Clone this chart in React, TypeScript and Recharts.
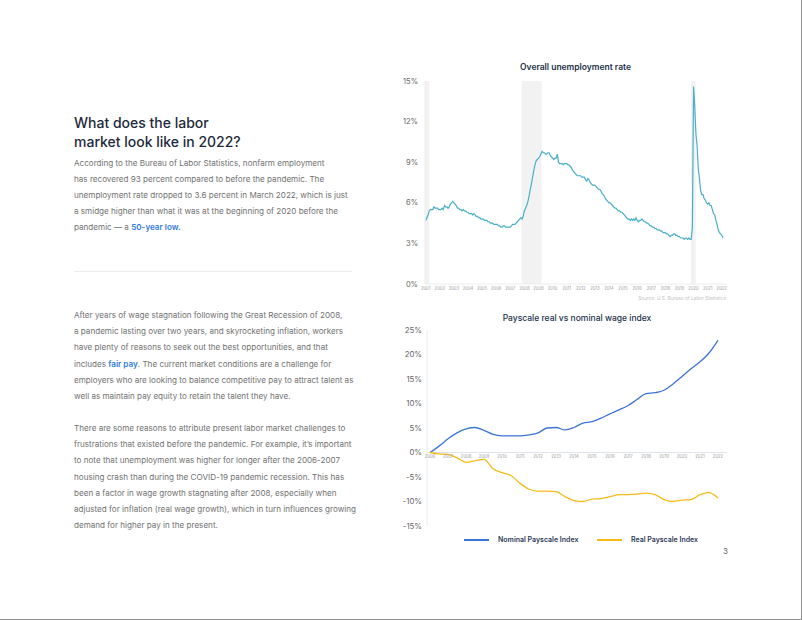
import React from 'react';
import { LineChart, Line, XAxis, YAxis, ReferenceArea, ReferenceLine } from 'recharts';

// ---------- Overall unemployment rate (monthly, %) ----------
const unempYears = [2001, 2002, 2003, 2004, 2005, 2006, 2007, 2008, 2009, 2010, 2011, 2012, 2013, 2014, 2015, 2016, 2017, 2018, 2019, 2020, 2021, 2022];
const unempRate: number[][] = [
  [4.7, 4.9, 5.1, 5.4, 5.5, 5.5, 5.5, 5.7, 5.6, 5.6, 5.6, 5.5],
  [5.5, 5.5, 5.6, 5.5, 5.8, 5.7, 5.7, 5.6, 5.7, 5.9, 6.0, 6.1],
  [6.0, 5.9, 5.8, 5.6, 5.6, 5.5, 5.5, 5.4, 5.5, 5.4, 5.4, 5.3],
  [5.3, 5.2, 5.2, 5.2, 5.1, 5.2, 5.1, 5.0, 5.0, 4.9, 4.9, 4.8],
  [4.8, 4.8, 4.7, 4.7, 4.7, 4.6, 4.6, 4.5, 4.5, 4.5, 4.4, 4.4],
  [4.4, 4.4, 4.3, 4.3, 4.2, 4.2, 4.3, 4.3, 4.2, 4.2, 4.2, 4.2],
  [4.2, 4.3, 4.4, 4.4, 4.4, 4.5, 4.6, 4.7, 4.8, 4.9, 4.8, 5.0],
  [5.4, 5.6, 5.8, 6.1, 6.5, 7.0, 7.4, 7.9, 8.4, 8.8, 9.1, 9.2],
  [9.3, 9.4, 9.6, 9.8, 9.7, 9.7, 9.6, 9.6, 9.7, 9.7, 9.5, 9.4],
  [9.3, 9.2, 9.3, 9.3, 9.6, 9.0, 8.9, 8.9, 8.9, 8.8, 8.9, 8.9],
  [8.9, 8.8, 8.8, 8.7, 8.6, 8.4, 8.3, 8.2, 8.1, 8.0, 8.0, 8.0],
  [8.0, 7.9, 7.9, 7.9, 7.7, 7.6, 7.8, 7.7, 7.5, 7.4, 7.3, 7.3],
  [7.3, 7.2, 7.1, 7.0, 7.0, 6.9, 6.7, 6.6, 6.5, 6.3, 6.2, 6.1],
  [6.0, 6.0, 5.9, 5.8, 5.7, 5.6, 5.6, 5.5, 5.4, 5.4, 5.3, 5.3],
  [5.2, 5.1, 5.0, 4.9, 4.8, 4.8, 4.7, 4.8, 4.7, 4.8, 4.7, 4.9],
  [4.7, 4.6, 4.7, 4.7, 4.8, 4.7, 4.6, 4.6, 4.5, 4.5, 4.4, 4.3],
  [4.3, 4.2, 4.2, 4.1, 4.1, 4.0, 4.0, 4.0, 3.9, 3.9, 3.8, 3.8],
  [3.8, 3.7, 3.7, 3.6, 3.5, 3.6, 3.6, 3.7, 3.7, 3.6, 3.6, 3.5],
  [3.5, 3.4, 3.4, 3.4, 3.3, 3.4, 3.4, 3.3, 3.4, 3.3, 3.3, 4.2],
  [14.6, 13.1, 11.1, 10.2, 8.5, 7.8, 6.9, 6.6, 6.6, 6.3, 6.2, 6.0],
  [5.9, 6.0, 5.8, 5.8, 5.5, 5.2, 5.1, 4.7, 4.4, 4.0, 3.8, 3.7],
  [3.6, 3.4],
];
const unempXTicks = [2001, 2002, 2003, 2004, 2005, 2006, 2007, 2008, 2009, 2010, 2011, 2012, 2013, 2014, 2015, 2016, 2017, 2018, 2019, 2020, 2021, 2022];
const unempYTicks = [0, 3, 6, 9, 12, 15];
const recessionStart = [2000.95, 2007.8, 2019.82];
const recessionEnd = [2001.25, 2009.22, 2020.15];

// ---------- Payscale real vs nominal wage index (%) ----------
const wageTimes = [2006, 2006.5, 2007, 2007.5, 2008, 2008.5, 2009, 2009.5, 2010, 2010.5, 2011, 2011.5, 2012, 2012.5, 2013, 2013.5, 2014, 2014.5, 2015, 2015.5, 2016, 2016.5, 2017, 2017.5, 2018, 2018.5, 2019, 2019.5, 2020, 2020.5, 2021, 2021.5, 2022];
const nominalIndex = [0, 1.3, 2.8, 4.0, 4.8, 5.1, 4.5, 3.7, 3.4, 3.4, 3.4, 3.6, 4.0, 5.0, 5.1, 4.6, 5.1, 6.0, 6.3, 7.0, 7.9, 8.7, 9.6, 10.8, 12.0, 12.2, 12.7, 14.0, 15.5, 17.1, 18.5, 20.3, 22.9];
const realIndex = [0, -0.3, -0.4, -1.1, -2.0, -1.7, -1.4, -3.3, -4.1, -4.7, -6.3, -7.5, -7.9, -7.9, -8.0, -9.0, -9.8, -10.0, -9.5, -9.4, -9.0, -8.6, -8.6, -8.5, -8.3, -8.6, -9.6, -10.0, -9.7, -9.6, -8.6, -8.2, -9.3];
const wageXTicks = [2006, 2007, 2008, 2009, 2010, 2011, 2012, 2013, 2014, 2015, 2016, 2017, 2018, 2019, 2020, 2021, 2022];
const wageYTicks = [-15, -10, -5, 0, 5, 10, 15, 20, 25];
const seriesNames = ['Nominal Payscale Index', 'Real Payscale Index'];

const unempData = unempYears.flatMap((y, i) => unempRate[i].map((v, m) => ({ t: y + m / 12, rate: v })));
const wageData = wageTimes.map((t, i) => ({ t, nominal: nominalIndex[i], real: realIndex[i] }));

const FONT = 'Inter, "Noto Sans", sans-serif';
const TEAL = '#48afc6';
const BLUE = '#3d74d8';
const GOLD = '#f6ba16';
const BODY = '#727272';
const LINK = '#2f7be0';

// bottom chart geometry (for placing x tick labels under the 0% line)
const W_TOP = 30;
const W_PLOT_H = 196;
const W_DOMAIN: [number, number] = [-15, 25];
const zeroOffset = W_PLOT_H * (W_DOMAIN[1] / (W_DOMAIN[1] - W_DOMAIN[0])) - W_PLOT_H;

const WageTick = (props: any) => {
  const { x, y, payload } = props;
  return (
    <text x={x} y={y + zeroOffset + 5.6} textAnchor="middle" fontSize={4.2} fill="#9a9a9a" fontFamily={FONT}>
      {payload.value}
    </text>
  );
};

const pStyle: React.CSSProperties = {
  position: 'absolute',
  left: 74,
  margin: 0,
  fontFamily: FONT,
  fontSize: 8.1,
  lineHeight: '16.2px',
  color: BODY,
  whiteSpace: 'nowrap',
};
const link: React.CSSProperties = { color: LINK, fontWeight: 600 };

export default function App() {
  return (
    <div
      style={{
        position: 'absolute',
        left: 0,
        top: 0,
        width: 802,
        height: 620,
        background: '#fff',
        overflow: 'hidden',
        boxSizing: 'border-box',
        borderRight: '1px solid #8f8f8f',
        borderBottom: '1px solid #8f8f8f',
        fontFamily: FONT,
      }}
    >
      {/* Left column text */}
      <div
        style={{
          position: 'absolute',
          left: 74,
          top: 113,
          fontFamily: FONT,
          fontSize: 14,
          fontWeight: 500,
          lineHeight: '19px',
          color: '#1e2a3b',
          whiteSpace: 'nowrap',
        }}
      >
        What does the labor
        <br />
        market look like in 2022?
      </div>
      <p style={{ ...pStyle, top: 154.5 }}>
        According to the Bureau of Labor Statistics, nonfarm employment
        <br />
        has recovered 93 percent compared to before the pandemic. The
        <br />
        unemployment rate dropped to 3.6 percent in March 2022, which is just
        <br />
        a smidge higher than what it was at the beginning of 2020 before the
        <br />
        pandemic — a <span style={link}>50-year low.</span>
      </p>
      <div style={{ position: 'absolute', left: 74, top: 271, width: 278, height: 1, background: '#ececec' }} />
      <p style={{ ...pStyle, top: 307 }}>
        After years of wage stagnation following the Great Recession of 2008,
        <br />
        a pandemic lasting over two years, and skyrocketing inflation, workers
        <br />
        have plenty of reasons to seek out the best opportunities, and that
        <br />
        includes <span style={link}>fair pay</span>. The current market conditions are a challenge for
        <br />
        employers who are looking to balance competitive pay to attract talent as
        <br />
        well as maintain pay equity to retain the talent they have.
      </p>
      <p style={{ ...pStyle, top: 420 }}>
        There are some reasons to attribute present labor market challenges to
        <br />
        frustrations that existed before the pandemic. For example, it’s important
        <br />
        to note that unemployment was higher for longer after the 2006-2007
        <br />
        housing crash than during the COVID-19 pandemic recession. This has
        <br />
        been a factor in wage growth stagnating after 2008, especially when
        <br />
        adjusted for inflation (real wage growth), which in turn influences growing
        <br />
        demand for higher pay in the present.
      </p>

      {/* Top chart */}
      <div
        style={{
          position: 'absolute',
          left: 425,
          width: 301,
          top: 62,
          textAlign: 'center',
          fontSize: 8.5,
          fontWeight: 600,
          color: '#23324a',
          fontFamily: FONT,
        }}
      >
        Overall unemployment rate
      </div>
      <div style={{ position: 'absolute', left: 385, top: 50 }}>
        <LineChart width={346} height={254} data={unempData} margin={{ top: 31, right: 5, bottom: 0, left: 0 }}>
          {recessionStart.map((s, i) => (
            <ReferenceArea key={i} x1={s} x2={recessionEnd[i]} y1={0} y2={15} fill="#f2f2f2" fillOpacity={1} stroke="none" ifOverflow="hidden" />
          ))}
          <XAxis
            dataKey="t"
            type="number"
            domain={[2000.95, 2022.3]}
            ticks={unempXTicks}
            interval={0}
            tickSize={0}
            tickMargin={3}
            axisLine={{ stroke: '#ececec' }}
            tickLine={false}
            tick={{ fontSize: 4.2, fill: '#9a9a9a', fontFamily: FONT }}
            height={20}
          />
          <YAxis
            type="number"
            domain={[0, 15]}
            ticks={unempYTicks}
            interval={0}
            width={40}
            tickSize={0}
            tickMargin={7}
            axisLine={{ stroke: '#ececec' }}
            tickLine={false}
            tickFormatter={(v: number) => `${v}%`}
            tick={{ fontSize: 7.5, fill: '#666', fontFamily: FONT }}
          />
          <Line type="linear" dataKey="rate" stroke={TEAL} strokeWidth={1.2} dot={false} isAnimationActive={false} />
        </LineChart>
      </div>
      <div
        style={{
          position: 'absolute',
          right: 802 - 727,
          top: 295,
          fontSize: 4.8,
          color: '#c4c4c4',
          fontFamily: FONT,
          whiteSpace: 'nowrap',
        }}
      >
        Source: U.S. Bureau of Labor Statistics
      </div>

      {/* Bottom chart */}
      <div
        style={{
          position: 'absolute',
          left: 427,
          width: 300,
          top: 313,
          textAlign: 'center',
          fontSize: 8.5,
          fontWeight: 500,
          color: '#23324a',
          fontFamily: FONT,
        }}
      >
        Payscale real vs nominal wage index
      </div>
      <div style={{ position: 'absolute', left: 387, top: 300 }}>
        <LineChart width={340} height={W_TOP + W_PLOT_H + 14} data={wageData} margin={{ top: W_TOP, right: 0, bottom: 0, left: 0 }}>
          <ReferenceLine y={0} stroke="#dfe4ea" strokeWidth={1} />
          <XAxis
            dataKey="t"
            type="number"
            domain={[2005.83, 2022.5]}
            ticks={wageXTicks}
            interval={0}
            tickSize={0}
            tickMargin={0}
            axisLine={false}
            tickLine={false}
            tick={<WageTick />}
            height={14}
          />
          <YAxis
            type="number"
            domain={W_DOMAIN}
            ticks={wageYTicks}
            interval={0}
            width={40}
            tickSize={0}
            tickMargin={5}
            axisLine={{ stroke: '#ececec' }}
            tickLine={false}
            tickFormatter={(v: number) => `${v}%`}
            tick={{ fontSize: 7.8, fill: '#666', fontFamily: FONT }}
          />
          <Line type="monotone" dataKey="nominal" name={seriesNames[0]} stroke={BLUE} strokeWidth={1.3} dot={false} isAnimationActive={false} />
          <Line type="monotone" dataKey="real" name={seriesNames[1]} stroke={GOLD} strokeWidth={1.3} dot={false} isAnimationActive={false} />
        </LineChart>
      </div>
      {/* Legend */}
      {[
        { name: seriesNames[0], color: BLUE, left: 464 },
        { name: seriesNames[1], color: GOLD, left: 597 },
      ].map((l) => (
        <div key={l.name} style={{ position: 'absolute', left: l.left, top: 535, display: 'flex', alignItems: 'center', whiteSpace: 'nowrap' }}>
          <div style={{ width: 25, height: 2, background: l.color, marginRight: 9 }} />
          <span style={{ fontSize: 7, fontWeight: 600, color: '#2b3a55', fontFamily: FONT, lineHeight: '10px' }}>{l.name}</span>
        </div>
      ))}
      <div style={{ position: 'absolute', left: 723, top: 546, fontSize: 8, color: '#666', fontFamily: FONT }}>3</div>
    </div>
  );
}
